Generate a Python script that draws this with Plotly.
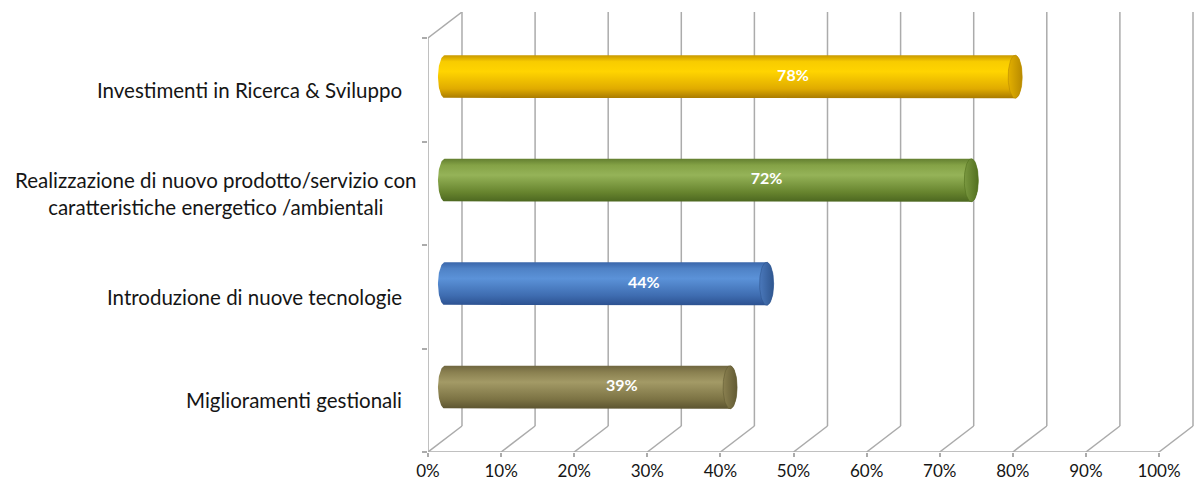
import numpy as np
import plotly.graph_objects as go

# Categories listed bottom to top, with their shares (%)
categories = [
    "Miglioramenti gestionali",
    "Introduzione di nuove tecnologie",
    "Realizzazione di nuovo prodotto/servizio con<br>caratteristiche energetico /ambientali",
    "Investimenti in Ricerca & Sviluppo",
]
values = [39, 44, 72, 78]
tick_values = list(range(0, 101, 10))
tick_labels = [f"{t}%" for t in tick_values]

# Cylinder shading: (bottom, low, highlight, upper, top) and cap colour per bar
body_colors = [
    ["#5c5430", "#7c7344", "#a39a66", "#8a8050", "#6f6640"],
    ["#2c5190", "#3e6cb0", "#5b92d8", "#4f82c6", "#3a66aa"],
    ["#4c6720", "#67842e", "#95b358", "#84a246", "#637f30"],
    ["#a87a00", "#e0ab00", "#ffd400", "#f8cc00", "#c89800"],
]
cap_colors = [
    ["#8a8050", "#625a33"],
    ["#4a78bb", "#2f568f"],
    ["#7a9840", "#52701f"],
    ["#e3b000", "#b88a00"],
]

# Fake-3D geometry (in axis units)
DX, DY = 4.65, 0.2512          # depth offset of the back wall
MX, MY = DX / 2, DY / 2        # bars sit mid-depth
HH = 0.208                     # cylinder half-height
RX = 0.96                      # horizontal radius of the end ellipses
GRID = "#ababab"
FONT = "Lato, Carlito, sans-serif"

fig = go.Figure()


def outline(x0, x1, yc, n=48):
    t = np.linspace(np.pi / 2, -np.pi / 2, n)
    rx_ = x1 + RX * np.cos(t)
    ry_ = yc + HH * np.sin(t)
    t2 = np.linspace(-np.pi / 2, -3 * np.pi / 2, n)
    lx_ = x0 + RX * np.cos(t2)
    ly_ = yc + HH * np.sin(t2)
    xs = np.concatenate([rx_, lx_, rx_[:1]])
    ys = np.concatenate([ry_, ly_, ry_[:1]])
    return xs, ys


def ellipse(xc, yc, n=60):
    t = np.linspace(0, 2 * np.pi, n)
    return xc + RX * np.cos(t), yc + HH * np.sin(t)


for i, (cat, v) in enumerate(zip(categories, values)):
    yc = i + 0.5 + MY
    x0, x1 = MX, MX + v
    xs, ys = outline(x0, x1, yc)
    c = body_colors[i]
    fig.add_trace(go.Scatter(
        x=xs, y=ys, mode="lines", fill="toself",
        line=dict(width=0, color=c[0]),
        fillgradient=dict(
            type="vertical",
            colorscale=[[0, c[0]], [0.22, c[1]], [0.62, c[2]], [0.85, c[3]], [1, c[4]]],
        ),
        hoverinfo="skip", showlegend=False,
    ))
    ex, ey = ellipse(x1, yc)
    cc = cap_colors[i]
    fig.add_trace(go.Scatter(
        x=ex, y=ey, mode="lines", fill="toself",
        line=dict(width=0.6, color=cc[1]),
        fillgradient=dict(type="horizontal", colorscale=[[0, cc[0]], [1, cc[1]]]),
        hoverinfo="skip", showlegend=False,
    ))

# Value labels on the cylinders
fig.add_trace(go.Scatter(
    x=[MX + 0.6 * v + 0.8 for v in values],
    y=[i + 0.5 + MY for i in range(len(values))],
    mode="text",
    text=[f"{v}%" for v in values],
    textfont=dict(family=FONT, size=16, color="white", weight="bold"),
    hoverinfo="skip", showlegend=False,
))

# Walls and floor of the 3-D frame
shapes = []
line = dict(color=GRID, width=1.5)
for t in tick_values:
    shapes.append(dict(type="line", xref="x", yref="y", x0=t + DX, y0=DY,
                       x1=t + DX, y1=len(categories) + DY, line=line, layer="below"))
    shapes.append(dict(type="line", xref="x", yref="y", x0=t, y0=0,
                       x1=t + DX, y1=DY, line=line, layer="below"))
shapes.append(dict(type="line", xref="x", yref="y", x0=0, y0=0, x1=100, y1=0,
                   line=line, layer="below"))
shapes.append(dict(type="line", xref="x", yref="y", x0=0, y0=0, x1=0,
                   y1=len(categories), line=line, layer="below"))
shapes.append(dict(type="line", xref="x", yref="y", x0=0, y0=len(categories),
                   x1=DX, y1=len(categories) + DY, line=line, layer="below"))

# Category labels to the left of the frame
annotations = []
for i, cat in enumerate(categories):
    two_line = "<br>" in cat
    annotations.append(dict(
        xref="paper", yref="y", x=0, y=i + 0.5,
        xanchor="right", yanchor="middle",
        xshift=-9 if two_line else -24,
        text=cat, showarrow=False, align="center",
        font=dict(family=FONT, size=20.5, color="#151515"),
    ))

fig.update_layout(
    width=1196, height=486,
    margin=dict(l=428, r=0, t=12, b=34),
    paper_bgcolor="white", plot_bgcolor="white",
    shapes=shapes, annotations=annotations,
    xaxis=dict(
        range=[0, 105.06], tickvals=tick_values, ticktext=tick_labels,
        showgrid=False, zeroline=False, showline=False,
        ticks="outside", ticklen=4, tickcolor=GRID, tickwidth=1.5,
        tickfont=dict(family=FONT, size=17, color="#151515"),
        fixedrange=True,
    ),
    yaxis=dict(
        range=[0, len(categories) + DY], tickvals=list(range(len(categories) + 1)),
        showticklabels=False, showgrid=False, zeroline=False, showline=False,
        ticks="outside", ticklen=5, tickcolor=GRID, tickwidth=1.5,
        fixedrange=True,
    ),
    showlegend=False,
)

fig.write_html("out.html")
